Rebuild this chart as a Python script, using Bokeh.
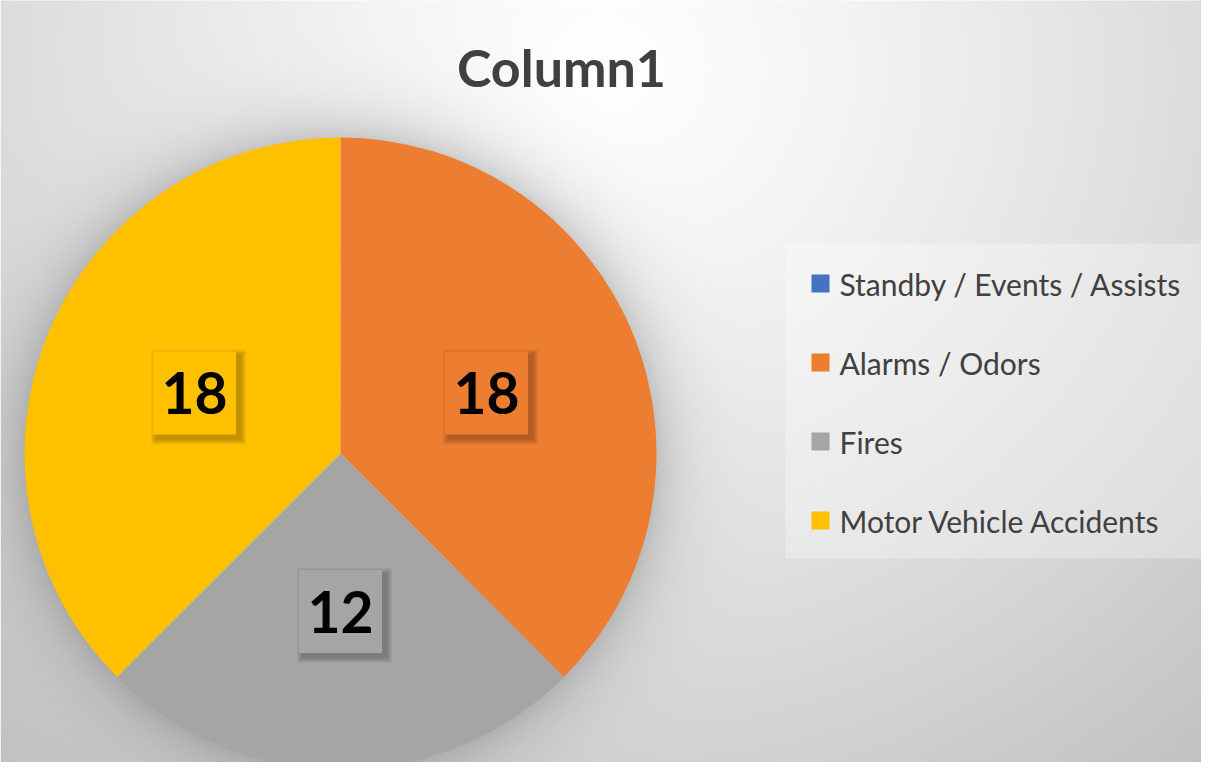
import numpy as np
from bokeh.plotting import figure
from bokeh.models import Range1d, ColumnDataSource
from bokeh.core.properties import value
from bokeh.embed import file_html
from bokeh.resources import INLINE

# ---- data ----
title_text = "Column1"
categories = ["Standby / Events / Assists", "Alarms / Odors", "Fires", "Motor Vehicle Accidents"]
counts = [0, 18, 12, 18]
colors = ["#4472C4", "#ED7D31", "#A5A5A5", "#FFC000"]

W, H = 1201, 762
FONT = "Lato"

p = figure(width=W, height=H, output_backend="svg", toolbar_location=None,
           x_range=Range1d(0, W), y_range=Range1d(0, H),
           min_border=0, match_aspect=False)
p.axis.visible = False
p.grid.visible = False
p.outline_line_color = None
p.background_fill_color = None
p.border_fill_color = "white"

def Y(ref_y):
    return H - ref_y

# pie geometry (data units == pixels, y up)
cx, cy, r = 340.0, Y(453.0), 316.0

# ---- background gradient + pie shadow (style only) ----
step = 2
nx, ny = W // step + 1, H // step + 1
xs = (np.arange(nx) + 0.5) * step
ys = (np.arange(ny) + 0.5) * step
XX, YY = np.meshgrid(xs, ys)
sx, sy = XX, H - YY
gx, gy = 600.0, 70.0
d = np.sqrt((sx - gx) ** 2 + ((sy - gy) / 0.95) ** 2)
g = 255 - 62 * np.clip(d / 950.0, 0, 1.2) ** 1.25
dist = np.sqrt((XX - cx) ** 2 + (YY - cy) ** 2) - r
sh = np.where(dist > 0, np.exp(-dist / 30.0), 1.0) * 0.17
g = g * (1 - sh)
g = np.clip(g, 0, 255).astype(np.uint32)
img = (255 << 24) | (g << 16) | (g << 8) | g
p.image_rgba(image=[img.astype(np.uint32)], x=0, y=0, dw=nx * step, dh=ny * step)

# ---- pie ----
total = float(sum(counts))
cum = np.cumsum([0] + counts)
starts = np.pi / 2 - 2 * np.pi * cum[:-1] / total
ends = np.pi / 2 - 2 * np.pi * cum[1:] / total
keep = [i for i, c in enumerate(counts) if c > 0]
src = ColumnDataSource(dict(
    start=[starts[i] for i in keep], end=[ends[i] for i in keep],
    color=[colors[i] for i in keep]))
p.wedge(x=cx, y=cy, radius=r, start_angle="start", end_angle="end",
        direction="clock", fill_color="color", line_color=None, source=src)

# ---- data labels ----
mids = [(starts[i] + ends[i]) / 2 for i in keep]
lx = [cx + 0.5 * r * np.cos(m) for m in mids]
ly = [cy + 0.5 * r * np.sin(m) for m in mids]
lab = ColumnDataSource(dict(x=lx, y=ly, t=[str(counts[i]) for i in keep],
                            color=[colors[i] for i in keep],
                            sxx=[v + 4 for v in lx], syy=[v - 4 for v in ly]))
box = 83
for k in range(6, 0, -1):
    p.rect(x="sxx", y="syy", width=box + 2 * k, height=box + 2 * k,
           fill_color="black", fill_alpha=0.045, line_color=None, source=lab)
p.rect(x="x", y="y", width=box, height=box, fill_color="color",
       line_color=None, source=lab)
p.text(x="x", y="y", text="t", text_font=value(FONT), text_font_style="bold",
       text_font_size="57px", text_color="black", text_align="center",
       text_baseline="middle", source=lab)

# ---- title ----
p.text(x=[561], y=[Y(66)], text=[title_text], text_font=value(FONT),
       text_font_style="bold", text_font_size="52px", text_color="#404040",
       text_align="center", text_baseline="middle")

# ---- legend ----
p.quad(left=785, right=W, bottom=Y(558), top=Y(243),
       fill_color="white", fill_alpha=0.3, line_color=None)
row_y = [Y(283 + 79 * i) for i in range(len(categories))]
leg = ColumnDataSource(dict(y=row_y, t=categories, color=colors))
p.rect(x=820, y="y", width=18, height=18, fill_color="color", line_color=None,
       source=leg)
p.text(x=839, y="y", text="t", text_font=value(FONT), text_font_size="30px",
       text_color="#404040", text_align="left", text_baseline="middle",
       source=leg)

open("out.html", "w").write(file_html(p, INLINE))
